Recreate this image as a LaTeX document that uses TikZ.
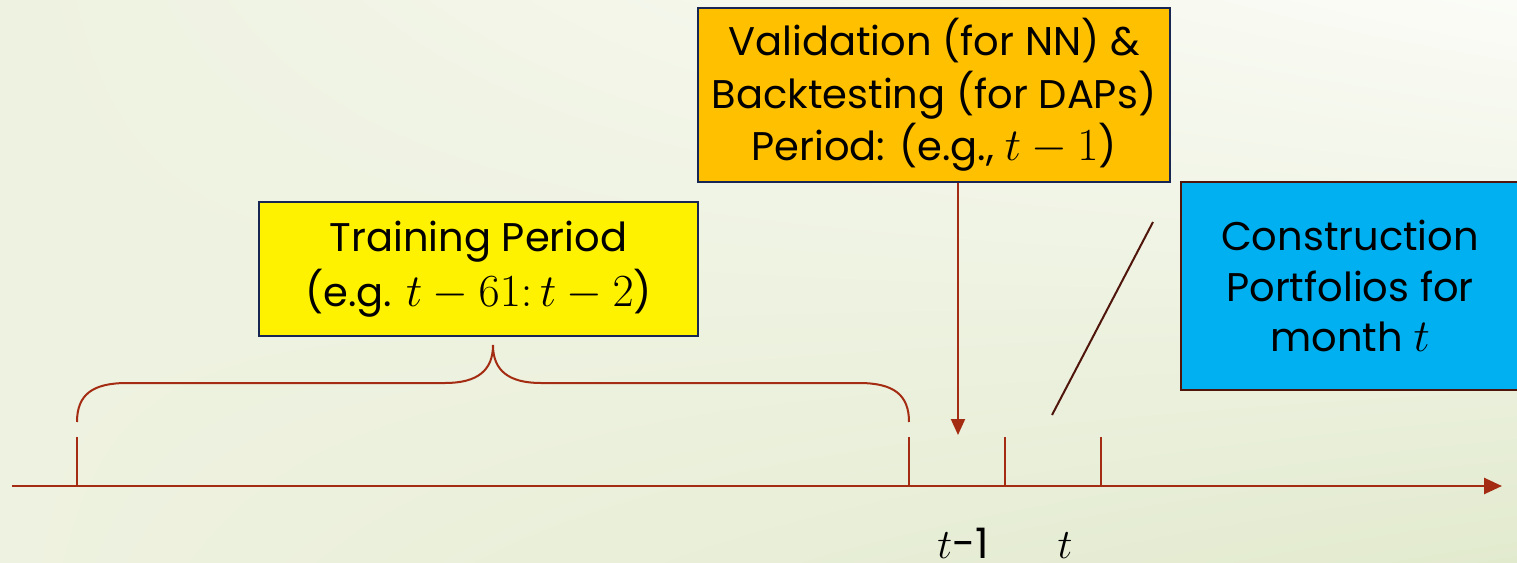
\RequirePackage{fix-cm}
\documentclass[tikz,border=0pt]{standalone}
\usepackage{fontspec}
\setmainfont{Poppins}
\usetikzlibrary{arrows.meta,shadings}
\definecolor{bgA}{RGB}{238,242,224}
\definecolor{bgB}{RGB}{251,252,247}
\definecolor{bgC}{RGB}{226,234,206}
\definecolor{axisred}{RGB}{163,44,18}
\definecolor{darkbrown}{RGB}{80,22,12}
\definecolor{navy}{RGB}{24,38,84}
\definecolor{valorange}{RGB}{255,192,0}
\definecolor{conblue}{RGB}{0,176,240}
\newcommand{\bigmath}[1]{{\fontsize{46}{46}\selectfont$#1$}}
\tikzset{
  box/.style={draw, line width=1.2pt, align=center, inner sep=0pt},
  axisline/.style={draw=axisred, line width=2.6pt},
  tick/.style={draw=axisred, line width=2pt},
  bracepath/.style={draw=axisred, line width=2pt},
  lbl/.style={font=\fontsize{42}{46}\selectfont, inner sep=0pt}
}
\begin{document}
\begin{tikzpicture}[x=1pt,y=-1pt]
\useasboundingbox (0,0) rectangle (1517,562);
\shade[upper left=bgA, upper right=bgB, lower left=bgA, lower right=bgC] (0,0) rectangle (1517,562);
% boxes
\node[box, fill=yellow, draw=navy, minimum width=439pt, minimum height=134pt, font=\fontsize{40}{55}\selectfont] (train) at (478.5,269) {Training Period\\(e.g. \bigmath{t-61{:}\,t-2})};
\node[box, fill=valorange, draw=navy, minimum width=472pt, minimum height=174pt, font=\fontsize{40}{52.5}\selectfont] (val) at (934,95) {Validation (for NN) \&\\Backtesting (for DAPs)\\Period: (e.g., \bigmath{t-1})};
\node[box, fill=conblue, draw=darkbrown, minimum width=338pt, minimum height=208pt, font=\fontsize{40}{50.5}\selectfont] (cons) at (1350,286) {Construction\\Portfolios for\\month \bigmath{t}};
% axis
\coordinate (a0) at (12,486);
\coordinate (a1) at (1502,486);
\draw[axisline, -{Triangle[length=18pt,width=16pt]}] (a0) -- (a1);
% ticks
\foreach \x/\n in {77/ta,909/tb,1005/tc,1101/td}{
  \coordinate (\n top) at (\x,437);
  \coordinate (\n bot) at (\x,486);
  \draw[tick] (\n top) -- (\n bot);
}
% brace
\coordinate (bl) at (77,422);
\coordinate (bm) at (493,345);
\coordinate (br) at (909,422);
\draw[bracepath] (bl) .. controls (77,395) and (92,383) .. (127,383) -- (445,383) .. controls (478,383) and (493,370) .. (bm)
  .. controls (493,370) and (508,383) .. (541,383) -- (859,383) .. controls (894,383) and (909,395) .. (br);
% arrow from validation box
\coordinate (vend) at (958,435);
\draw[axisred, line width=2pt, -{Triangle[length=16pt,width=14pt]}] (val.south -| vend) -- (vend);
% slanted line
\coordinate (s0) at (1153,222);
\coordinate (s1) at (1052,415);
\draw[darkbrown, line width=2pt] (s0) -- (s1);
% labels
\node[lbl, anchor=base] (l1) at (963,558) {$t$-1};
\node[lbl, anchor=base] (l2) at (1065,558) {$t$};
\end{tikzpicture}
\end{document}
